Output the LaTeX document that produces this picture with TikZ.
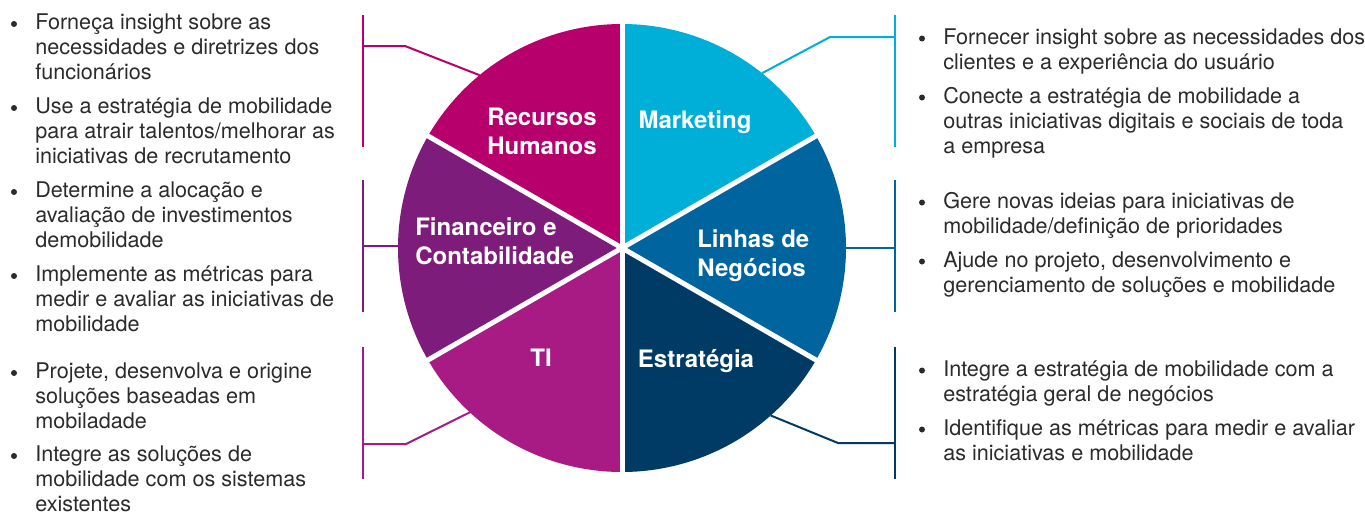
\documentclass[tikz,border=0pt]{standalone}
\usepackage{fontspec}
\setmainfont{TeX Gyre Heros}
\usetikzlibrary{calc}
\definecolor{mkt}{HTML}{00AFD8}
\definecolor{lin}{HTML}{00659F}
\definecolor{est}{HTML}{003B66}
\definecolor{ti}{HTML}{A91B84}
\definecolor{fin}{HTML}{7E1C7B}
\definecolor{rh}{HTML}{B8006D}
\definecolor{bodygray}{HTML}{2B2B2B}
\tikzset{
	item/.style={inner sep=0pt, anchor=north west, align=left, text=bodygray, font=\fontsize{16.2}{18.75}\selectfont},
	slabel/.style={inner sep=0pt, text=white, font=\bfseries\fontsize{18}{21.75}\selectfont},
	bracket/.style={line width=1.5pt},
	gap/.style={white, line width=3.75pt}
}
\newcommand{\piesector}[3]{
	\fill[#1] (c) -- ++(#2:224) arc[start angle=#2, end angle=#3, radius=224] -- cycle;
}
\newcommand{\bulletitem}[4]{
	\node[item] (#1) at (#2,#3-17.5) {\strut #4};
	\fill[bodygray] (#2-21,#3-5.5) circle[radius=3];
}
\newcommand{\connectbracket}[8]{
	\coordinate (#2-top) at (#3,#4);
	\coordinate (#2-bot) at (#3,#5);
	\coordinate (#2-arm) at (#3,#6);
	\coordinate (#2-knee) at (#7,#6);
	\coordinate (#2-edge) at ($(c)+(#8:224)$);
	\draw[bracket,#1] (#2-top) -- (#2-bot);
	\draw[bracket,#1] (#2-arm) -- (#2-knee) -- (#2-edge);
}

\begin{document}
\begin{tikzpicture}[x=0.75pt, y=-0.75pt]
	\useasboundingbox (0,0) rectangle (1365,511);
	\coordinate (c) at (622,248);

	% pie
	\piesector{mkt}{-90}{-30}
	\piesector{lin}{-30}{30}
	\piesector{est}{30}{90}
	\piesector{ti}{90}{150}
	\piesector{fin}{150}{210}
	\piesector{rh}{210}{270}
	\foreach \a in {-90,-30,30,90,150,210}
		\draw[gap] (c) -- ++(\a:230);

	% sector labels
	\node[slabel, anchor=north, align=center] (rh-label) at (542,125-20.3) {\strut Recursos\\Humanos};
	\node[slabel, anchor=base] (mkt-label) at (695,128) {Marketing};
	\node[slabel, anchor=north west, align=left] (lin-label) at (697,247-20.3) {\strut Linhas de\\Negócios};
	\node[slabel, anchor=north west, align=left] (fin-label) at (415,235-20.3) {\strut Financeiro e\\Contabilidade};
	\node[slabel, anchor=base] (ti-label) at (541,366) {TI};
	\node[slabel, anchor=base] (est-label) at (696,367) {Estratégia};

	% brackets
	\connectbracket{rh}{rh}{363}{15}{147}{46}{405}{230.5}
	\connectbracket{fin}{fin}{363}{180}{312}{246}{380}{180.5}
	\connectbracket{ti}{ti}{363}{347}{479}{444}{406}{132.8}
	\connectbracket{mkt}{mkt}{895}{15}{147}{37}{830}{-51.3}
	\connectbracket{lin}{lin}{895}{180}{312}{248}{870}{0}
	\connectbracket{est}{est}{895}{347}{479}{443}{838}{48.4}

	% left texts
	\bulletitem{rh1}{35}{29.5}{Forneça insight sobre as\\necessidades e diretrizes dos\\funcionários}
	\bulletitem{rh2}{35}{113.5}{Use a estratégia de mobilidade\\para atrair talentos/melhorar as\\iniciativas de recrutamento}
	\bulletitem{fin1}{35}{197.5}{Determine a alocação e\\avaliação de investimentos\\demobilidade}
	\bulletitem{fin2}{35}{281.5}{Implemente as métricas para\\medir e avaliar as iniciativas de\\mobilidade}
	\bulletitem{ti1}{35}{378.5}{Projete, desenvolva e origine\\soluções baseadas em\\mobiladade}
	\bulletitem{ti2}{35}{461.5}{Integre as soluções de\\mobilidade com os sistemas\\existentes}

	% right texts
	\bulletitem{mkt1}{943}{44}{Fornecer insight sobre as necessidades dos\\clientes e a experiência do usuário}
	\bulletitem{mkt2}{943}{103}{Conecte a estratégia de mobilidade a\\outras iniciativas digitais e sociais de toda\\a empresa}
	\bulletitem{lin1}{943}{208}{Gere novas ideias para iniciativas de\\mobilidade/definição de prioridades}
	\bulletitem{lin2}{943}{267}{Ajude no projeto, desenvolvimento e\\gerenciamento de soluções e mobilidade}
	\bulletitem{est1}{943}{376}{Integre a estratégia de mobilidade com a\\estratégia geral de negócios}
	\bulletitem{est2}{943}{435}{Identifique as métricas para medir e avaliar\\as iniciativas e mobilidade}
\end{tikzpicture}
\end{document}
